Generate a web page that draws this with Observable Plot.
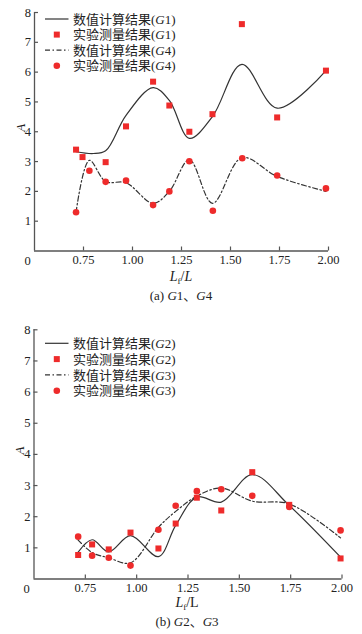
<!DOCTYPE html>
<html><head><meta charset="utf-8">
<script src="https://cdn.jsdelivr.net/npm/d3@7"></script>
<script src="https://cdn.jsdelivr.net/npm/@observablehq/plot@0.6"></script>
<style>
body{margin:0;background:#fff;width:362px;height:634px;position:relative;overflow:hidden;color:#222;font-family:"Liberation Serif","Noto Sans CJK SC",serif}
.box{position:absolute;left:0;top:0}
.lab{position:absolute;transform:translate(-50%,-50%);white-space:nowrap;line-height:1;font-family:"Liberation Serif","Noto Sans CJK SC",serif}
.lab sub{font-size:9px;vertical-align:-3px;line-height:0}
</style></head><body>
<div id="c1" class="box" style="top:0px"></div>
<div id="c2" class="box" style="top:310px"></div>
<div class="lab" style="left:181px;top:277px;font-size:14px"><i>L</i><sub>f</sub>/<i>L</i></div>
<div class="lab" style="left:181px;top:295px;font-size:13px">(a) <i>G</i>1、<i>G</i>4</div>
<div class="lab" style="left:187px;top:603px;font-size:14px"><i>L</i><sub>f</sub>/L</div>
<div class="lab" style="left:187px;top:621px;font-size:13px">(b) <i>G</i>2、<i>G</i>3</div>
<script>
// ---- data ----
const xTicks = [0.75, 1.00, 1.25, 1.50, 1.75, 2.00];
const yTicks = [1, 2, 3, 4, 5, 6, 7, 8];
const xDomain = [0.5, 2.0];
const yDomain = [0, 8];

// (a) G1, G4
const g1CalcX = [0.712, 0.80, 0.863, 0.967, 1.105, 1.188, 1.29, 1.408, 1.558, 1.738, 1.987];
const g1CalcY = [3.33, 3.27, 3.36, 4.55, 5.48, 5.05, 3.78, 4.51, 6.26, 4.79, 6.05];
const g1ExpX  = [0.712, 0.745, 0.863, 0.967, 1.105, 1.188, 1.29, 1.408, 1.558, 1.738, 1.987];
const g1ExpY  = [3.40, 3.15, 2.98, 4.18, 5.68, 4.88, 4.00, 4.59, 7.61, 4.48, 6.05];
const g4CalcX = [0.712, 0.78, 0.863, 0.967, 1.105, 1.188, 1.29, 1.408, 1.558, 1.738, 1.987];
const g4CalcY = [1.30, 3.04, 2.33, 2.29, 1.60, 2.00, 3.06, 1.60, 3.13, 2.50, 2.00];
const g4ExpX  = [0.712, 0.78, 0.863, 0.967, 1.105, 1.188, 1.29, 1.41, 1.56, 1.738, 1.987];
const g4ExpY  = [1.30, 2.69, 2.32, 2.36, 1.54, 2.00, 3.01, 1.35, 3.11, 2.53, 2.10];

// (b) G2, G3
const bX      = [0.715, 0.783, 0.864, 0.97, 1.106, 1.19, 1.293, 1.412, 1.563, 1.743, 1.993];
const g2CalcY = [0.86, 1.26, 0.87, 1.39, 0.72, 1.72, 2.63, 2.47, 3.35, 2.36, 0.70];
const g2ExpY  = [0.77, 1.11, 0.95, 1.49, 0.98, 1.78, 2.61, 2.20, 3.43, 2.38, 0.66];
const g3CalcY = [1.25, 0.85, 0.68, 0.52, 1.66, 2.17, 2.66, 2.92, 2.50, 2.41, 1.32];
const g3ExpY  = [1.36, 0.75, 0.68, 0.43, 1.58, 2.35, 2.82, 2.88, 2.67, 2.31, 1.56];

const legendA = [
  {type: "solid", pre: "数值计算结果(", g: "G", post: "1)"},
  {type: "square", pre: "实验测量结果(", g: "G", post: "1)"},
  {type: "dashdot", pre: "数值计算结果(", g: "G", post: "4)"},
  {type: "circle", pre: "实验测量结果(", g: "G", post: "4)"}
];
const legendB = [
  {type: "solid", pre: "数值计算结果(", g: "G", post: "2)"},
  {type: "square", pre: "实验测量结果(", g: "G", post: "2)"},
  {type: "dashdot", pre: "数值计算结果(", g: "G", post: "3)"},
  {type: "circle", pre: "实验测量结果(", g: "G", post: "3)"}
];

// ---- styles ----
const red = "#ee2b2b";
const lineColor = "#333";
const axisColor = "#555";
const dashDot = "5,2.5,1.5,2.5";

const zip = (xs, ys) => xs.map((x, i) => ({x, y: ys[i]}));

function chart(o) {
  const svg = Plot.plot({
    width: 362, height: o.height,
    marginTop: o.mt, marginLeft: o.ml, marginRight: o.mr, marginBottom: o.mb,
    x: {domain: xDomain},
    y: {domain: yDomain},
    style: {fontFamily: '"Liberation Serif", serif', fontSize: "12px", color: "#222", background: "transparent", overflow: "visible"},
    marks: [
      Plot.axisX(xTicks, {tickSize: -4, tickPadding: 8, tickFormat: d3.format(".2f"), stroke: axisColor, strokeWidth: 1.2, label: null, fontSize: 12.5}),
      Plot.axisY(yTicks, {tickSize: -4, tickPadding: 7.5, stroke: axisColor, strokeWidth: 1.2, label: null, fontSize: 12.5}),
      Plot.ruleY([yDomain[0]], {stroke: axisColor, strokeWidth: 1.3}),
      Plot.ruleX([xDomain[0]], {stroke: axisColor, strokeWidth: 1.3}),
      Plot.text(["0"], {x: () => xDomain[0], y: () => yDomain[0], text: d => d, dx: o.zeroDx, dy: 9.5, lineAnchor: "middle", fontSize: 12.5}),
      Plot.text(["A"], {frameAnchor: "left", y: () => 4, text: d => d, dx: -14, rotate: -90, fontStyle: "italic", fontSize: 13}),
      Plot.line(o.lineSolid, {x: "x", y: "y", curve: "catmull-rom", stroke: lineColor, strokeWidth: 1.2}),
      Plot.line(o.lineDash, {x: "x", y: "y", curve: "catmull-rom", stroke: lineColor, strokeWidth: 1.2, strokeDasharray: dashDot}),
      Plot.dot(o.squares, {x: "x", y: "y", symbol: "square", r: 3.4, fill: red, stroke: "none"}),
      Plot.dot(o.circles, {x: "x", y: "y", symbol: "circle", r: 3.3, fill: red, stroke: "none"})
    ]
  });
  // legend
  const s = d3.select(svg);
  const g = s.append("g").attr("text-anchor", "start");
  o.legend.forEach((it, i) => {
    const y = o.legY0 + i * o.legDy;
    if (it.type === "solid" || it.type === "dashdot") {
      g.append("line").attr("x1", 45).attr("x2", 68.5).attr("y1", y).attr("y2", y)
        .attr("stroke", lineColor).attr("stroke-width", 1.2)
        .attr("stroke-dasharray", it.type === "dashdot" ? dashDot : null);
    } else if (it.type === "square") {
      g.append("rect").attr("x", 56.8 - 3).attr("y", y - 3).attr("width", 6).attr("height", 6).attr("fill", red);
    } else {
      g.append("circle").attr("cx", 56.8).attr("cy", y).attr("r", 3.3).attr("fill", red);
    }
    const t = g.append("text").attr("x", 73).attr("y", y).attr("dy", "0.36em")
      .attr("text-anchor", "start")
      .attr("font-size", 13).attr("fill", "#222")
      .attr("font-family", '"Liberation Serif", "Noto Sans CJK SC", serif');
    t.append("tspan").text(it.pre);
    t.append("tspan").attr("font-style", "italic").text(it.g);
    t.append("tspan").text(it.post);
  });
  return svg;
}

document.getElementById("c1").append(chart({
  height: 268, mt: 12, ml: 34, mr: 34, mb: 17.5, zeroDx: -7,
  lineSolid: zip(g1CalcX, g1CalcY), lineDash: zip(g4CalcX, g4CalcY),
  squares: zip(g1ExpX, g1ExpY), circles: zip(g4ExpX, g4ExpY),
  legend: legendA, legY0: 19, legDy: 15.6
}));
document.getElementById("c2").append(chart({
  height: 292, mt: 19.3, ml: 33.5, mr: 20.5, mb: 23.5, zeroDx: -7.5,
  lineSolid: zip(bX, g2CalcY), lineDash: zip(bX, g3CalcY),
  squares: zip(bX, g2ExpY), circles: zip(bX, g3ExpY),
  legend: legendB, legY0: 33.3, legDy: 15.8
}));
</script>
</body></html>
